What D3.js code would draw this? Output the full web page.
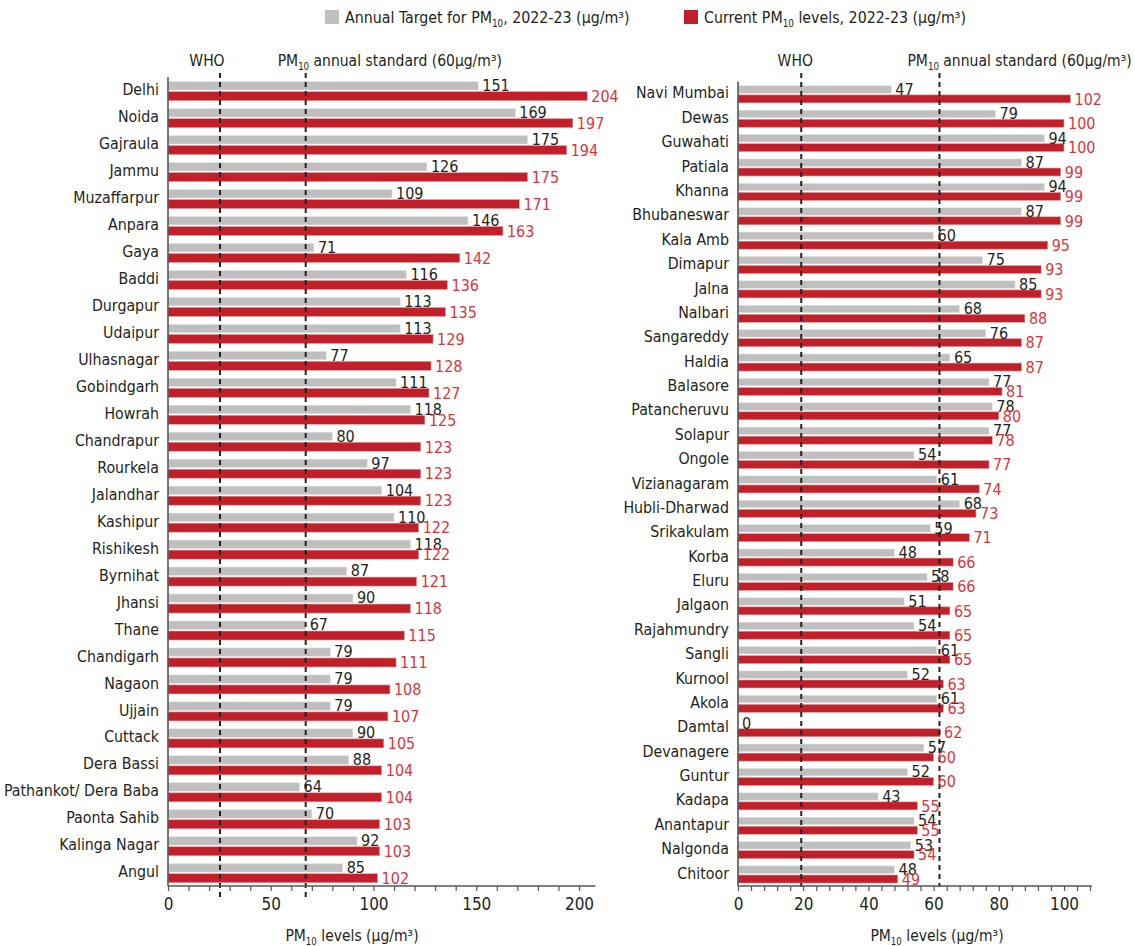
<!DOCTYPE html>
<html><head><meta charset="utf-8">
<script src="https://cdn.jsdelivr.net/npm/d3@7"></script>
<style>
body{margin:0;background:#fff;}
text{font-family:"DejaVu Sans Condensed","DejaVu Sans",sans-serif;font-stretch:condensed;}
</style></head>
<body><svg id="chart" width="1135" height="946"></svg>
<script>
// ---------- DATA ----------
const leftCities = ["Delhi","Noida","Gajraula","Jammu","Muzaffarpur","Anpara","Gaya","Baddi","Durgapur","Udaipur","Ulhasnagar","Gobindgarh","Howrah","Chandrapur","Rourkela","Jalandhar","Kashipur","Rishikesh","Byrnihat","Jhansi","Thane","Chandigarh","Nagaon","Ujjain","Cuttack","Dera Bassi","Pathankot/ Dera Baba","Paonta Sahib","Kalinga Nagar","Angul"];
const leftTarget = [151,169,175,126,109,146,71,116,113,113,77,111,118,80,97,104,110,118,87,90,67,79,79,79,90,88,64,70,92,85];
const leftCurrent = [204,197,194,175,171,163,142,136,135,129,128,127,125,123,123,123,122,122,121,118,115,111,108,107,105,104,104,103,103,102];

const rightCities = ["Navi Mumbai","Dewas","Guwahati","Patiala","Khanna","Bhubaneswar","Kala Amb","Dimapur","Jalna","Nalbari","Sangareddy","Haldia","Balasore","Patancheruvu","Solapur","Ongole","Vizianagaram","Hubli-Dharwad","Srikakulam","Korba","Eluru","Jalgaon","Rajahmundry","Sangli","Kurnool","Akola","Damtal","Devanagere","Guntur","Kadapa","Anantapur","Nalgonda","Chitoor"];
const rightTarget = [47,79,94,87,94,87,60,75,85,68,76,65,77,78,77,54,61,68,59,48,58,51,54,61,52,61,0,57,52,43,54,53,48];
const rightCurrent = [102,100,100,99,99,99,95,93,93,88,87,87,81,80,78,77,74,73,71,66,66,65,65,65,63,63,62,60,60,55,55,54,49];

const leftTicks = [0,50,100,150,200];
const rightTicks = [0,20,40,60,80,100];
// reference lines as drawn in the picture: [WHO, PM10 standard]
const leftRefs = [25.3, 67];
const rightRefs = [19.4, 61.8];

// ---------- STYLE ----------
const GRAY = "#bfbfbf", RED = "#c1202b", RED_TXT = "#d8363d", INK = "#231f20", AXIS = "#555";
const svg = d3.select("#chart");

function pmText(sel, pre, post) {
  sel.append("tspan").text(pre);
  sel.append("tspan").attr("font-size", "0.62em").attr("dy", 4).text("10");
  sel.append("tspan").attr("dy", -4).text(post);
}

function panel(cfg) {
  const x = d3.scaleLinear().domain([0, cfg.max]).range([cfg.x0, cfg.x0 + cfg.max * cfg.k]);
  const y = d3.scaleBand().domain(cfg.cities).range([cfg.y0, cfg.y1]);
  const g = svg.append("g");
  const bw = y.bandwidth();
  const center = c => y(c) + bw / 2 + 0.6;

  cfg.cities.forEach((c, i) => {
    const cy = center(c);
    g.append("rect").attr("x", x(0)).attr("y", cy - cfg.gh - 1).attr("width", x(cfg.target[i]) - x(0)).attr("height", cfg.gh)
      .attr("fill", GRAY).attr("stroke", "#e6e6e6").attr("stroke-width", 0.6);
    g.append("rect").attr("x", x(0)).attr("y", cy + 0.6).attr("width", x(cfg.current[i]) - x(0)).attr("height", cfg.rh)
      .attr("fill", RED).attr("stroke", "#e4a0a0").attr("stroke-width", 0.6);
    g.append("text").attr("x", cfg.x0 - 9).attr("y", cy - 1.5).attr("dy", "0.36em").attr("text-anchor", "end")
      .attr("font-size", 15.8).attr("fill", INK).text(c);
  });

  // reference lines
  cfg.refs.forEach(r => {
    g.append("line").attr("x1", x(r)).attr("x2", x(r)).attr("y1", 73).attr("y2", cfg.refEnd)
      .attr("stroke", "#222").attr("stroke-width", 2).attr("stroke-dasharray", "5,4");
  });
  g.append("text").attr("x", x(cfg.refs[0]) + cfg.whoDx).attr("y", 66).attr("text-anchor", "middle")
    .attr("font-size", 15.5).attr("fill", INK).text("WHO");
  const st = g.append("text").attr("x", x(cfg.refs[1]) + cfg.stdDx).attr("y", 66)
    .attr("font-size", 15.5).attr("fill", INK);
  pmText(st, "PM", " annual standard (60µg/m³)");

  // value labels
  cfg.cities.forEach((c, i) => {
    const cy = center(c);
    g.append("text").attr("x", x(cfg.target[i]) + 4).attr("y", cy - cfg.gh / 2 - 1.5).attr("dy", "0.36em")
      .attr("font-size", 16).attr("fill", INK).text(cfg.target[i]);
    g.append("text").attr("x", x(cfg.current[i]) + 4).attr("y", cy + cfg.rh / 2 + 0.6).attr("dy", "0.36em")
      .attr("font-size", 16).attr("fill", RED_TXT).text(cfg.current[i]);
  });

  // axes
  const minor = d3.range(0, cfg.max + 0.001, cfg.minorStep);
  const ax = g.append("g").attr("transform", `translate(0,${cfg.y1})`)
    .call(d3.axisBottom(x).tickValues(minor).tickSize(5).tickPadding(7)
      .tickFormat(d => cfg.ticks.includes(d) ? d : ""));
  ax.select(".domain").attr("stroke", AXIS).attr("stroke-width", 1.6).attr("d", `M${x(0)},0H${x(cfg.max)}`);
  ax.selectAll(".tick line").attr("stroke", AXIS).attr("stroke-width", 1.2);
  ax.selectAll(".tick text").attr("font-size", 17).attr("fill", INK)
    .attr("font-family", '"DejaVu Sans Condensed","DejaVu Sans",sans-serif');
  g.append("line").attr("x1", x(0)).attr("x2", x(0)).attr("y1", cfg.y0).attr("y2", cfg.y1)
    .attr("stroke", AXIS).attr("stroke-width", 1.6);
  const t = g.append("text").attr("x", cfg.titleX).attr("y", 941).attr("text-anchor", "middle")
    .attr("font-size", 15.5).attr("fill", INK);
  pmText(t, "PM", " levels (µg/m³)");
}

panel({cities: leftCities, target: leftTarget, current: leftCurrent, ticks: leftTicks, refs: leftRefs,
  max: 208, x0: 168, k: 2.055, y0: 77, y1: 886, gh: 8.5, rh: 9, minorStep: 10, refEnd: 899,
  whoDx: -13, stdDx: -28, titleX: 352});
panel({cities: rightCities, target: rightTarget, current: rightCurrent, ticks: rightTicks, refs: rightRefs,
  max: 108.5, x0: 738, k: 3.26, y0: 81.5, y1: 886, gh: 7.5, rh: 8, minorStep: 4, refEnd: 887,
  whoDx: -6, stdDx: -32, titleX: 937});

// legend
const leg = [{x: 325, c: GRAY, pre: "Annual Target for PM", post: ", 2022-23 (µg/m³)"},
             {x: 684, c: RED, pre: "Current PM", post: " levels, 2022-23 (µg/m³)"}];
leg.forEach(l => {
  svg.append("rect").attr("x", l.x).attr("y", 10).attr("width", 14).attr("height", 14).attr("fill", l.c);
  const t = svg.append("text").attr("x", l.x + 20).attr("y", 23).attr("font-size", 15.8).attr("fill", INK);
  pmText(t, l.pre, l.post);
});
</script></body></html>
